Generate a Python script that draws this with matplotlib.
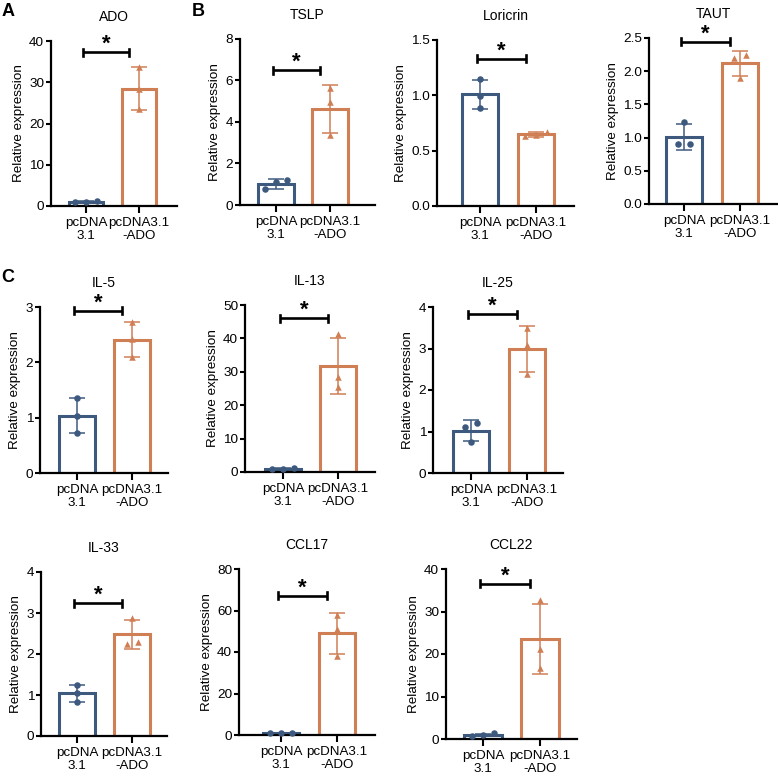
import numpy as np
import matplotlib
matplotlib.use("Agg")
import matplotlib.pyplot as plt

plt.rcParams['font.family'] = ['Liberation Sans', 'DejaVu Sans']

# ---------------- data ----------------
groups = ["pcDNA\n3.1", "pcDNA3.1\n-ADO"]
genes = ["ADO", "TSLP", "Loricrin", "TAUT", "IL-5", "IL-13", "IL-25",
         "IL-33", "CCL17", "CCL22"]
ctrl_points = [
    [1.2, 0.9, 0.9],
    [1.2, 1.1, 0.75],
    [1.15, 0.99, 0.89],
    [1.24, 0.90, 0.90],
    [1.35, 1.03, 0.72],
    [1.2, 1.0, 0.8],
    [1.21, 1.11, 0.75],
    [1.25, 1.04, 0.82],
    [1.2, 1.0, 0.8],
    [1.3, 0.9, 0.8],
]
ado_points = [
    [33.7, 28.3, 23.4],
    [5.63, 4.94, 3.37],
    [0.67, 0.64, 0.63],
    [2.25, 2.20, 1.90],
    [2.72, 2.42, 2.09],
    [41.3, 28.5, 25.3],
    [3.49, 3.09, 2.39],
    [2.88, 2.30, 2.25],
    [57.8, 50.9, 38.1],
    [32.8, 21.2, 16.7],
]
y_max = [40, 8, 1.5, 2.5, 3, 50, 4, 4, 80, 40]
y_step = [10, 2, 0.5, 0.5, 1, 10, 1, 1, 20, 10]
sig_y = [37.3, 6.5, 1.33, 2.44, 2.93, 46.1, 3.83, 3.24, 67, 36.5]
sig_text = ["*"] * 10

# ---------------- layout (pixels) ----------------
W, H = 778, 779
# left spine x, right end x, y of zero, y of top, bar centre 0, bar centre 1
layout = [
    (51, 177, 206, 41, 86, 139),
    (240, 375, 205, 39, 276, 330),
    (437, 574, 206, 40, 480, 536),
    (649, 777, 204, 38, 684, 740),
    (40, 168, 473, 307, 77, 132),
    (245, 375, 472, 305, 283, 338),
    (433, 563, 473, 307, 471, 527),
    (41, 167, 736, 572, 77, 132),
    (239, 375, 735, 569, 281, 337),
    (446, 577, 739, 569, 483, 540),
]
panel_labels = [("A", 8, 12), ("B", 198, 12), ("C", 8, 278)]

blue = "#3D5A7E"
orange = "#D07F55"
colors = [blue, orange]
markers = ["o", "^"]

fig = plt.figure(figsize=(W / 100, H / 100), dpi=100)


def swarm_offsets(vals, px_per_unit, thresh=8, step=0.2):
    vals = np.asarray(vals, float)
    order = np.argsort(vals)
    offs = np.zeros(len(vals))
    clusters = [[order[0]]]
    for i in order[1:]:
        if (vals[i] - vals[clusters[-1][-1]]) * px_per_unit < thresh:
            clusters[-1].append(i)
        else:
            clusters.append([i])
    for cl in clusters:
        n = len(cl)
        for k, idx in enumerate(cl):
            offs[idx] = (k - (n - 1) / 2) * step
    return offs


for i, gene in enumerate(genes):
    lx, rx, y0, yt, c0, c1 = layout[i]
    ax = fig.add_axes([lx / W, 1 - y0 / H, (rx - lx) / W, (y0 - yt) / H])
    sp = c1 - c0
    ax.set_xlim(-(c0 - lx) / sp, 1 + (rx - c1) / sp)
    ax.set_ylim(0, y_max[i])
    px_per_unit = (y0 - yt) / y_max[i]

    for g, pts in enumerate([ctrl_points[i], ado_points[i]]):
        pts = np.asarray(pts)
        m = pts.mean()
        sd = pts.std(ddof=1)
        ax.bar(g, m, width=0.66, facecolor="white", edgecolor=colors[g],
               linewidth=2.2, zorder=2)
        ax.errorbar(g, m, yerr=sd, color=colors[g], capsize=5.5,
                    elinewidth=1.1, capthick=1.1, zorder=3)
        offs = swarm_offsets(pts, px_per_unit)
        ax.scatter(g + offs, pts, marker=markers[g], s=22, color=colors[g],
                   zorder=4, linewidths=0, clip_on=False)

    # significance bracket
    xb0, xb1 = -0.05, 0.82
    cap = 3.5 / px_per_unit
    ax.plot([xb0, xb1], [sig_y[i], sig_y[i]], color="black", lw=1.9,
            clip_on=False, zorder=5, solid_capstyle="butt")
    for xb in (xb0, xb1):
        ax.plot([xb, xb], [sig_y[i] - cap, sig_y[i] + cap], color="black",
                lw=1.9, clip_on=False, zorder=5)
    ax.annotate(sig_text[i], xy=((xb0 + xb1) / 2, sig_y[i]),
                xytext=(0, 1.5), textcoords="offset points", ha="center",
                va="baseline", fontsize=16, fontweight="bold",
                annotation_clip=False)

    ticks = np.arange(0, y_max[i] + y_step[i] / 2, y_step[i])
    ax.set_yticks(ticks)
    if y_step[i] < 1:
        ax.set_yticklabels([f"{t:.1f}" for t in ticks])
    else:
        ax.set_yticklabels([f"{t:.0f}" for t in ticks])
    ax.set_xticks([0, 1])
    ax.set_xticklabels(groups, linespacing=1.05)

    for s in ["top", "right"]:
        ax.spines[s].set_visible(False)
    for s in ["left", "bottom"]:
        ax.spines[s].set_linewidth(1.6)
    ax.tick_params(axis="y", direction="out", length=3.5, width=1.5,
                   labelsize=9.7, pad=1.5)
    ax.tick_params(axis="x", direction="out", length=5, width=1.5,
                   labelsize=9.6, pad=3)
    ax.set_ylabel("Relative expression", fontsize=9.7, labelpad=3)
    ax.set_title(gene, fontsize=10, pad=14.5)

for lab, x, y in panel_labels:
    fig.text(x / W, 1 - y / H, lab, fontsize=13, fontweight="bold",
             ha="center", va="center")

fig.savefig("out.png", dpi=100)
